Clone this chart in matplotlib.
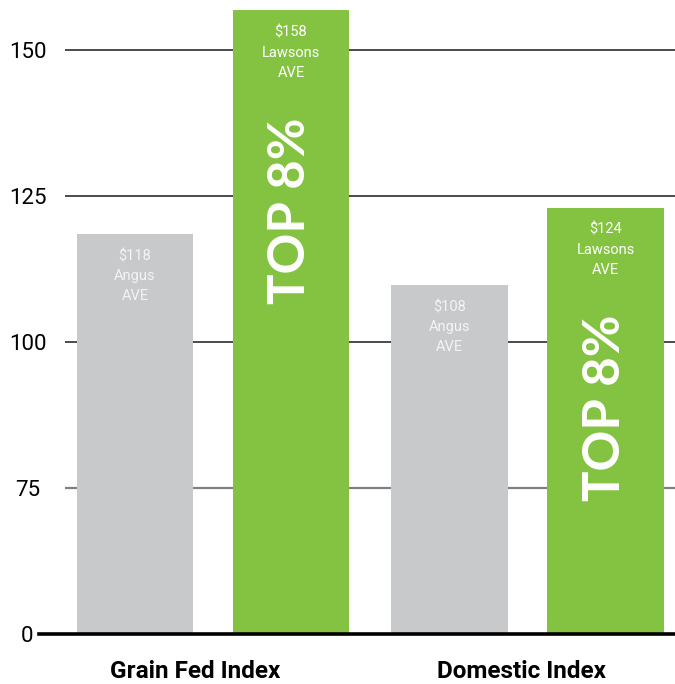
import matplotlib.pyplot as plt
import numpy as np

# data
categories = ["Grain Fed Index", "Domestic Index"]
angus_heights = [118.5, 109.8]
lawsons_heights = [156.8, 123.0]
angus_labels = ["$118\nAngus\nAVE", "$108\nAngus\nAVE"]
lawsons_labels = ["$158\nLawsons\nAVE", "$124\nLawsons\nAVE"]
badge_text = "TOP 8%"
tick_values = [50, 75, 100, 125, 150]   # axis is broken: the bottom line is labelled 0
tick_labels = ["0", "75", "100", "125", "150"]

GRAY = "#c8c9cb"
GREEN = "#84c341"
narrow = ["Roboto", "DejaVu Sans"]

fig = plt.figure(figsize=(6.75, 6.84), dpi=100)
ax = fig.add_axes([65 / 675, 50 / 684, 610 / 675, 634 / 684])

x = np.arange(len(categories))
offset = 0.248
width = 0.369

# grid lines behind bars
for v in tick_values[1:]:
    col = "#7f7f7f" if v == 75 else "#1a1a1a"
    lw = 1.6 if v == 75 else 1.1
    ax.axhline(v, color=col, lw=lw, zorder=0)

b1 = ax.bar(x - offset, angus_heights, width, color=GRAY, zorder=2)
b2 = ax.bar(x + offset, lawsons_heights, width, color=GREEN, zorder=2)

ax.set_ylim(50, 158.56)
ax.set_xlim(-0.4706, 1.469)

for rect, lab in zip(b1, angus_labels):
    ax.annotate(lab, (rect.get_x() + rect.get_width() / 2, rect.get_height()),
                xytext=(0, -11), textcoords="offset points", ha="center", va="top",
                color="#f4f4f4", fontsize=10.5, family=narrow, linespacing=1.55, zorder=3)

for rect, lab in zip(b2, lawsons_labels):
    cx = rect.get_x() + rect.get_width() / 2
    ax.annotate(lab, (cx, rect.get_height()),
                xytext=(0, -11), textcoords="offset points", ha="center", va="top",
                color="white", fontsize=10.5, family=narrow, linespacing=1.55, zorder=3)
    ax.annotate(badge_text, (cx, rect.get_height()),
                xytext=(0, -77), textcoords="offset points", ha="center", va="top",
                rotation=90, color="white", fontsize=36.5, fontweight="bold",
                family=["Lato", "DejaVu Sans"], zorder=3)

# baseline extends left past the grid
ax.plot([(39 - 65) / 610, 1], [0, 0], transform=ax.transAxes, color="black",
        lw=2.6, clip_on=False, zorder=4)

ax.set_yticks(tick_values)
ax.set_yticklabels(tick_labels, fontsize=16, family=narrow, ha="center")
ax.tick_params(axis="y", length=0, pad=27)
ax.set_xticks(x + np.array([-0.057, -0.018]))
ax.set_xticklabels(categories, fontsize=17.5, fontweight="bold", family=narrow)
ax.tick_params(axis="x", length=0, pad=19)

for s in ax.spines.values():
    s.set_visible(False)

fig.savefig("out.png", dpi=100)
